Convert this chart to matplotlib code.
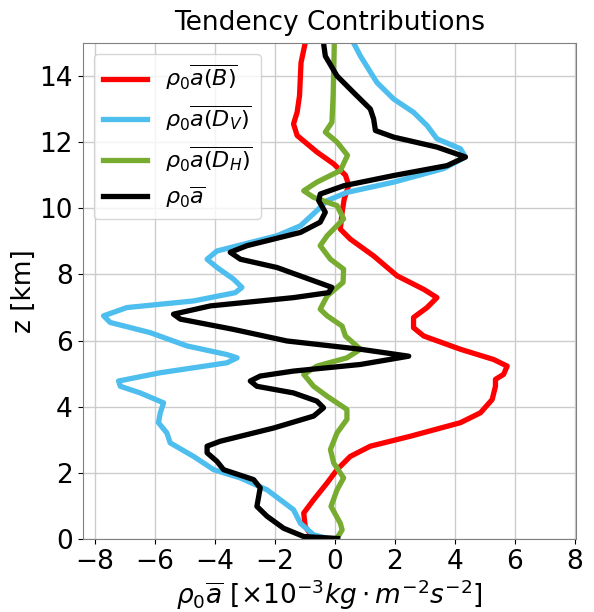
import matplotlib
matplotlib.use('Agg')
import matplotlib.pyplot as plt

# height levels [km] and tendency values [x1e-3 kg m^-2 s^-2]
z_B = [15.0, 14.4, 13.4, 12.9, 12.55, 12.2, 11.7, 11.34, 11.0, 10.7, 10.28, 9.88, 9.37,
       9.07, 8.56, 7.96, 7.55, 7.3, 7.0, 6.7, 6.39, 6.14, 5.74, 5.43, 5.23, 4.98, 4.83,
       4.62, 4.22, 3.82, 3.52, 3.11, 2.81, 2.5, 2.1, 1.7, 1.19, 0.79, 0.38, 0.08]
a_B = [-0.98, -1.12, -1.17, -1.25, -1.37, -1.25, -0.59, -0.03, 0.36, 0.47, 0.32, 0.25, 0.19,
       0.52, 1.3, 2.08, 2.97, 3.41, 3.08, 2.63, 2.63, 2.97, 4.19, 5.3, 5.75, 5.63, 5.36,
       5.36, 5.25, 4.86, 4.19, 2.52, 1.19, 0.52, 0.08, -0.25, -0.7, -1.03, -0.98, -0.75]

z_DV = [15.0, 14.6, 13.8, 13.3, 12.9, 12.5, 12.1, 11.8, 11.55, 11.2, 10.79, 10.48, 10.23,
        9.93, 9.47, 9.17, 8.71, 8.46, 8.21, 7.86, 7.61, 7.45, 7.2, 7.0, 6.75, 6.55, 6.24,
        5.84, 5.58, 5.48, 5.33, 5.03, 4.78, 4.62, 4.42, 4.12, 3.82, 3.52, 3.21, 2.91, 2.5,
        2.1, 1.85, 1.49, 0.89, 0.48, 0.13, 0.03, 0.0]
a_DV = [0.63, 0.86, 1.41, 1.97, 2.63, 3.08, 3.41, 4.19, 4.36, 3.63, 1.97, 0.41, -0.25,
        -0.59, -1.14, -1.92, -3.92, -4.25, -3.92, -3.37, -3.09, -3.31, -4.7, -6.92, -7.7, -7.48, -6.14,
        -4.92, -3.59, -3.25, -3.59, -5.81, -7.2, -7.14, -6.48, -5.7, -5.81, -5.87, -5.59, -5.48, -4.7,
        -4.03, -3.14, -2.25, -1.37, -1.14, -0.7, -0.25, 0.1]

z_DH = [15.0, 13.4, 12.6, 12.3, 12.0, 11.6, 11.14, 10.79, 10.53, 10.33, 10.08, 9.68, 9.17,
        8.87, 8.46, 8.16, 7.76, 7.35, 6.95, 6.75, 6.44, 6.14, 5.74, 5.48, 5.23, 4.98, 4.62,
        4.32, 3.92, 3.62, 3.21, 2.71, 2.3, 1.85, 1.49, 0.99, 0.48, 0.28, 0.03]
a_DH = [-0.01, -0.05, -0.09, -0.31, 0.08, 0.43, 0.19, -0.59, -1.03, -0.7, 0.08, 0.3, -0.25,
        -0.48, -0.14, 0.3, 0.28, -0.25, -0.48, -0.25, 0.25, 0.36, 0.86, 0.41, -0.59, -1.03, -0.7,
        -0.25, 0.41, 0.41, 0.08, -0.14, -0.03, 0.3, 0.08, -0.12, 0.19, 0.25, 0.08]

z_tot = [15.0, 14.6, 14.0, 13.5, 13.0, 12.7, 12.35, 12.15, 11.85, 11.55, 11.29, 10.99, 10.68,
         10.43, 10.23, 9.88, 9.58, 9.27, 8.87, 8.67, 8.46, 8.21, 7.81, 7.61, 7.45, 7.3, 7.05,
         6.8, 6.65, 6.34, 5.99, 5.74, 5.53, 5.28, 5.08, 4.93, 4.78, 4.62, 4.42, 4.17, 3.97,
         3.72, 3.36, 2.96, 2.81, 2.61, 2.35, 2.1, 1.8, 1.55, 0.99, 0.69, 0.33, 0.08, 0.02]
a_tot = [-0.37, -0.31, 0.08, 0.63, 1.19, 1.3, 1.36, 1.97, 3.41, 4.36, 3.75, 1.97, 0.3,
         -0.48, -0.53, -0.31, -0.48, -1.14, -2.92, -3.48, -3.14, -1.92, -0.7, -0.09, -0.2, -1.37, -4.14,
         -5.37, -5.14, -3.37, -1.59, 0.86, 2.47, 0.86, -1.37, -2.48, -2.81, -2.59, -1.37, -0.59, -0.37,
         -0.7, -2.03, -3.81, -4.25, -4.25, -3.92, -3.7, -2.7, -2.48, -2.59, -2.25, -1.7, -1.03, 0.1]

labels = [r'$\rho_0\overline{a(B)}$', r'$\rho_0\overline{a(D_V)}$',
          r'$\rho_0\overline{a(D_H)}$', r'$\rho_0\overline{a}$']
colors = ['#ff0000', '#4dbeee', '#77ac30', '#000000']

fig = plt.figure(figsize=(5.94, 6.12), dpi=100)
ax = fig.add_axes([0.139, 0.119, 0.831, 0.811])

series = [(a_B, z_B), (a_DV, z_DV), (a_DH, z_DH), (a_tot, z_tot)]
for (a, z), lab, c in zip(series, labels, colors):
    ax.plot(a, z, color=c, lw=3.8, label=lab, solid_joinstyle='round')

ax.set_xlim(-8.4, 8.05)
ax.set_ylim(0, 15)
ax.set_xticks(range(-8, 9, 2))
ax.set_yticks(range(0, 15, 2))
ax.grid(True, color='#cccccc', lw=1)
for s in ax.spines.values():
    s.set_color('#808080')
ax.tick_params(labelsize=19)
ax.set_title('Tendency Contributions', fontsize=19, pad=9)
ax.set_ylabel('z [km]', fontsize=19, labelpad=2)
ax.set_xlabel(r'$\rho_0\overline{a}\ [\times10^{-3}kg\cdot m^{-2}s^{-2}]$', fontsize=19, labelpad=2)
ax.legend(loc='upper left', fontsize=16, handlelength=2.0)

fig.savefig('out.png', dpi=100)
